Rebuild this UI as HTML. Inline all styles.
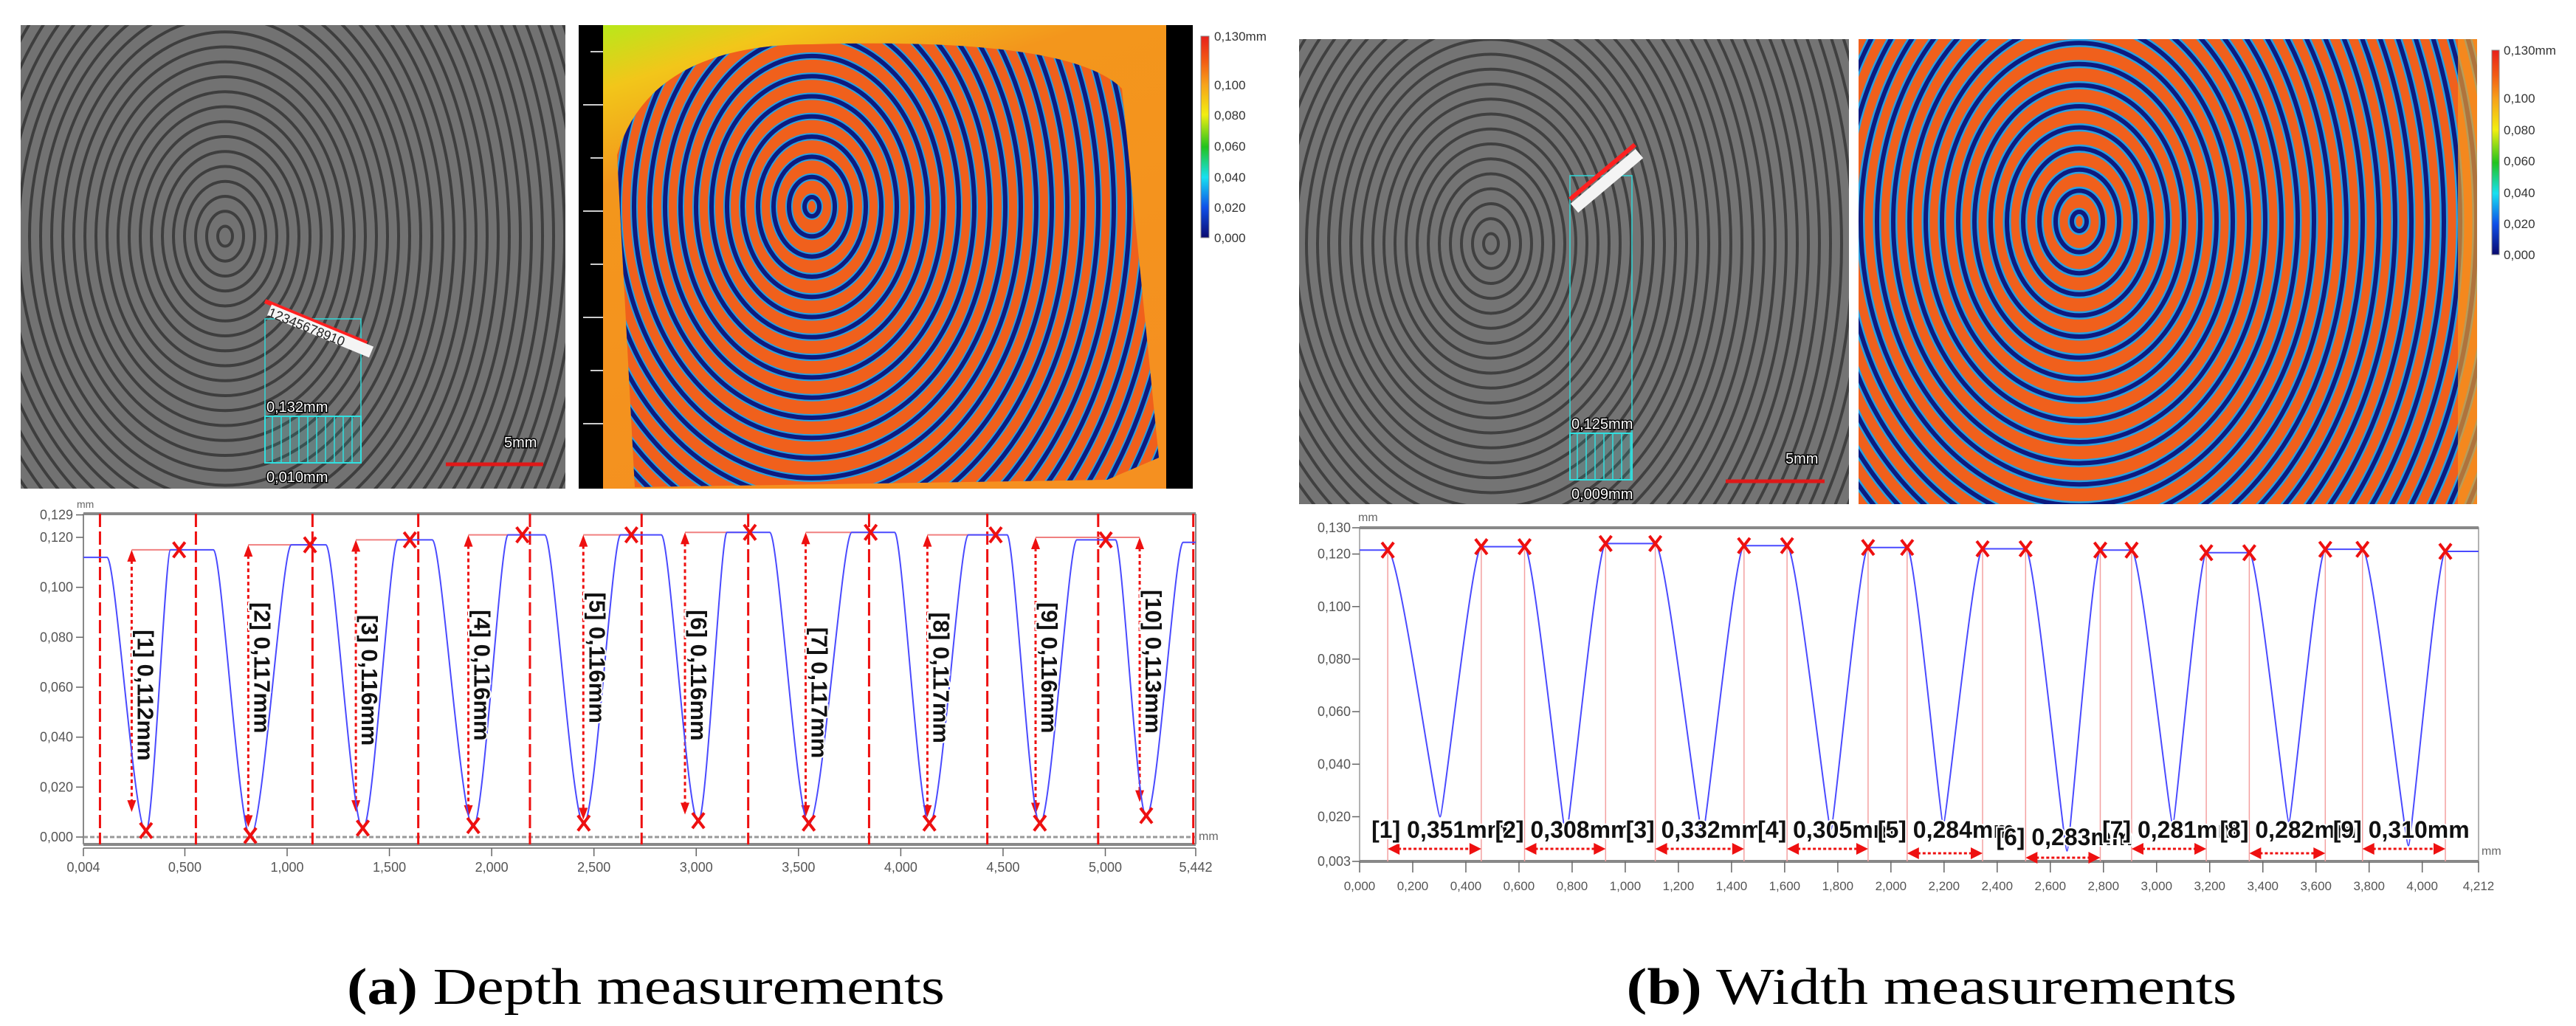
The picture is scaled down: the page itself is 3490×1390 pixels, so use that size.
<!DOCTYPE html>
<html><head><meta charset="utf-8"><title>Depth and width measurements</title>
<style>
html,body{margin:0;padding:0;background:#fff;width:3490px;height:1390px;overflow:hidden;}
svg{display:block;font-family:"Liberation Sans",sans-serif;}
</style></head>
<body>
<svg id="root" width="3490" height="1390" viewBox="0 0 3490 1390" xmlns="http://www.w3.org/2000/svg">
<defs>
<clipPath id="cGrayL"><rect x="28" y="34" width="738" height="628"/></clipPath>
<clipPath id="cColL"><path d="M836 210 Q880 60 1100 60 Q1450 50 1520 120 L1570 620 L1500 650 L860 660 Z"/></clipPath>
<clipPath id="cColLr"><rect x="817" y="34" width="763" height="628"/></clipPath>
<clipPath id="cGrayR"><rect x="1760" y="53" width="745" height="630"/></clipPath>
<clipPath id="cColR"><rect x="2518" y="53" width="838" height="630"/></clipPath>
<linearGradient id="cbar" x1="0" y1="0" x2="0" y2="1">
<stop offset="0" stop-color="#e8201c"/><stop offset="0.12" stop-color="#f25a14"/><stop offset="0.24" stop-color="#f7a21a"/>
<stop offset="0.39" stop-color="#f2ee10"/><stop offset="0.55" stop-color="#22c31e"/><stop offset="0.70" stop-color="#18e0f0"/>
<stop offset="0.85" stop-color="#1050e8"/><stop offset="1" stop-color="#0a0a70"/></linearGradient>
<linearGradient id="bgL" x1="0" y1="0" x2="0.4" y2="1">
<stop offset="0" stop-color="#b8e81a"/><stop offset="0.12" stop-color="#f2c61a"/><stop offset="0.3" stop-color="#f3961c"/><stop offset="1" stop-color="#f59020"/></linearGradient>
</defs>
<g id="images"></g>
<g id="chartL"></g>
<g id="chartR"></g>
<text x="875" y="1360" text-anchor="middle" font-family="Liberation Serif, serif" font-size="70" textLength="810" lengthAdjust="spacingAndGlyphs"><tspan font-weight="bold">(a)</tspan> Depth measurements</text>
<text x="2617" y="1360" text-anchor="middle" font-family="Liberation Serif, serif" font-size="70" textLength="827" lengthAdjust="spacingAndGlyphs"><tspan font-weight="bold">(b)</tspan> Width measurements</text>
</svg>
<script>
// ---------- depth chart data (a) ----------
const depthXTicks = [0.004,0.5,1.0,1.5,2.0,2.5,3.0,3.5,4.0,4.5,5.0,5.442];
const depthYTicks = [0,0.02,0.04,0.06,0.08,0.10,0.12,0.129];
const depthPeakStart = [0.004,0.43,1.02,1.54,2.08,2.63,3.15,3.76,4.33,4.86,5.38];
const depthPeakEnd = [0.12,0.64,1.19,1.71,2.26,2.83,3.36,3.97,4.52,5.05,5.442];
const depthPeakVal = [0.112,0.115,0.117,0.119,0.121,0.121,0.122,0.122,0.121,0.119,0.118];
const depthValleyX = [0.31,0.82,1.37,1.91,2.45,3.01,3.55,4.14,4.68,5.20];
const depthValleyVal = [0.002,0.000,0.003,0.004,0.005,0.006,0.005,0.005,0.005,0.008];
const depthBoundX = [0.085,0.554,1.124,1.641,2.187,2.733,3.254,3.845,4.423,4.965,5.43];
const depthArrowX = [0.240,0.810,1.336,1.886,2.448,2.945,3.535,4.130,4.659,5.168];
const depthArrowTop = [0.115,0.117,0.119,0.121,0.121,0.122,0.122,0.121,0.120,0.120];
const depthArrowBottom = [0.010,0.004,0.010,0.008,0.007,0.009,0.008,0.008,0.009,0.014];
const depthPeakMarkX = [0.472,1.112,1.600,2.150,2.683,3.262,3.853,4.464,5.002,5.002];
const depthLabels = ["[1] 0,112mm","[2] 0,117mm","[3] 0,116mm","[4] 0,116mm","[5] 0,116mm","[6] 0,116mm","[7] 0,117mm","[8] 0,117mm","[9] 0,116mm","[10] 0,113mm"];
const depthLabelTop = [0.083,0.094,0.089,0.091,0.098,0.091,0.084,0.090,0.094,0.099];
// ---------- width chart data (b) ----------
const widthXTicks = [0,0.2,0.4,0.6,0.8,1.0,1.2,1.4,1.6,1.8,2.0,2.2,2.4,2.6,2.8,3.0,3.2,3.4,3.6,3.8,4.0,4.212];
const widthYTicks = [0.003,0.02,0.04,0.06,0.08,0.10,0.12,0.13];
const widthPeakStart = [0,0.458,0.926,1.447,1.914,2.345,2.788,3.187,3.635,4.087];
const widthPeakEnd = [0.106,0.621,1.113,1.609,2.061,2.507,2.906,3.349,3.775,4.212];
const widthPeakVal = [0.1215,0.1228,0.124,0.1232,0.1225,0.122,0.1215,0.1205,0.1218,0.121];
const widthValleyX = [0.303,0.777,1.291,1.774,2.197,2.663,3.061,3.498,3.948];
const widthValleyVal = [0.020,0.013,0.013,0.015,0.017,0.007,0.017,0.018,0.009];
const widthLabels = ["[1] 0,351mm","[2] 0,308mm","[3] 0,332mm","[4] 0,305mm","[5] 0,284mm","[6] 0,283mm","[7] 0,281mm","[8] 0,282mm","[9] 0,310mm"];
const widthLabelRow = [0,0,0,0,1,2,0,1,0];

const NS = "http://www.w3.org/2000/svg";
function el(tag, attrs, parent, txt){
  const e = document.createElementNS(NS, tag);
  for (const k in attrs) e.setAttribute(k, attrs[k]);
  if (txt !== undefined) e.textContent = txt;
  parent.appendChild(e);
  return e;
}
function axis(p0,p1,d0,d1){ return v => p0 + (v-d0)/(d1-d0)*(p1-p0); }
function fmt(v){ return v.toFixed(3).replace('.',','); }
function profilePath(ps,pe,pv,vx,vv,X,Y,sharp){
  let d = "M"+X(ps[0])+" "+Y(pv[0])+" L"+X(pe[0])+" "+Y(pv[0]);
  for (let i=0;i<vx.length;i++){
    const a = pe[i], b = vx[i], c = ps[i+1];
    const d1 = b-a, d2 = c-b;
    d += " C"+X(a+0.22*d1)+" "+Y(pv[i])+" "+X(b-sharp*d1)+" "+Y(vv[i])+" "+X(b)+" "+Y(vv[i]);
    d += " C"+X(b+sharp*d2)+" "+Y(vv[i])+" "+X(c-0.22*d2)+" "+Y(pv[i+1])+" "+X(c)+" "+Y(pv[i+1]);
    d += " L"+X(pe[i+1])+" "+Y(pv[i+1]);
  }
  return d;
}
function xMark(g,x,y,s){
  const m = el("path",{d:"M"+(x-s)+" "+(y-s*1.3)+" L"+(x+s)+" "+(y+s*1.3)+" M"+(x+s)+" "+(y-s*1.3)+" L"+(x-s)+" "+(y+s*1.3),stroke:"#ee1010","stroke-width":4,fill:"none"},g);
  
  
}

// ---------- images ----------
const IMG = document.getElementById('images');
function rings(g, cx, cy, color, w, step, max, ratio, clip){
  const grp = el("g",{"clip-path":"url(#"+clip+")"},g);
  const lim = Math.min(max, (1370-cy)/ratio);
  for (let r=10; r<lim; r+=step){
    el("ellipse",{cx:cx,cy:cy,rx:r,ry:r*ratio,fill:"none",stroke:color,"stroke-width":w},grp);
  }
  return grp;
}
let gg = el("g",{},IMG);


el("rect",{x:28,y:34,width:738,height:628,fill:"#727272"},gg);
rings(gg,305,320,"#3e3e3e",4,15,700,1.35,"cGrayL");
let gc = el("g",{},IMG);


el("rect",{x:784,y:34,width:832,height:628,fill:"#000"},gc);
el("rect",{x:817,y:34,width:763,height:628,fill:"url(#bgL)"},gc);
let cg = el("g",{"clip-path":"url(#cColL)"},gc);
el("rect",{x:817,y:34,width:763,height:628,fill:"#f0601c"},cg);
rings(cg,1100,280,"#2aa0e0",10,21,700,1.3,"cColLr");
rings(cg,1100,280,"#0c1a80",6,21,700,1.3,"cColLr");
for (let i=0;i<8;i++){ el("line",{x1:(i%2?790:800),x2:817,y1:70+i*72,y2:70+i*72,stroke:"#ccc","stroke-width":2},gc); }
let cb = el("g",{},IMG);


el("rect",{x:1627,y:49,width:11,height:273,fill:"url(#cbar)",stroke:"#888","stroke-width":1},cb);
const cbLabels = ["0,130mm","0,100","0,080","0,060","0,040","0,020","0,000"];
const cbYL = [49,115,156,198,240,281,322];
cbLabels.forEach((t,i)=>{ el("text",{x:1645,y:cbYL[i]+6,"font-size":17,fill:"#333"},cb,t); });
let gg2 = el("g",{},IMG);


el("rect",{x:1760,y:53,width:745,height:630,fill:"#747474"},gg2);
rings(gg2,2020,330,"#404040",4,15,700,1.35,"cGrayR");
let gc2 = el("g",{},IMG);


el("rect",{x:2518,y:53,width:838,height:630,fill:"#f0601c"},gc2);
rings(gc2,2817,300,"#2aa0e0",11,22,750,1.3,"cColR");
rings(gc2,2817,300,"#0c1a80",6,22,750,1.3,"cColR");
el("rect",{x:3330,y:53,width:26,height:630,fill:"#f59a20",opacity:0.7},gc2);
let cb2 = el("g",{},IMG);


el("rect",{x:3376,y:68,width:10,height:277,fill:"url(#cbar)",stroke:"#888","stroke-width":1},cb2);
const cbYR = [68,133,176,218,261,303,345];
cbLabels.forEach((t,i)=>{ el("text",{x:3392,y:cbYR[i]+6,"font-size":17,fill:"#333"},cb2,t); });
function overlay(g, x0, x1, yTop, yBox, yBot, t1, t2, diag){
  el("rect",{x:x0,y:yTop,width:x1-x0,height:yBox-yTop,fill:"none",stroke:"#30d8d8","stroke-width":1.5},g);
  el("rect",{x:x0,y:yBox,width:x1-x0,height:yBot-yBox,fill:"rgba(40,200,200,0.15)",stroke:"#30e0e0","stroke-width":2},g);
  for (let x=x0+10;x<x1;x+=12) el("line",{x1:x,x2:x,y1:yBox,y2:yBot,stroke:"#30e0e0","stroke-width":1.5},g);
  el("text",{x:x0+2,y:yBox-6,"font-size":20,fill:"#fff",stroke:"#000","stroke-width":3,"paint-order":"stroke"},g,t1);
  el("text",{x:x0+2,y:yBot+26,"font-size":20,fill:"#fff",stroke:"#000","stroke-width":3,"paint-order":"stroke"},g,t2);
  el("line",{x1:diag[0],y1:diag[1],x2:diag[2],y2:diag[3],stroke:"#ff2020","stroke-width":6},g);
  el("line",{x1:diag[0]+6,y1:diag[1]+12,x2:diag[2]+6,y2:diag[3]+12,stroke:"#f4f4f4","stroke-width":16},g);
}
let ov1 = el("g",{},IMG);


overlay(ov1,359,489,432,564,627,"0,132mm","0,010mm",[359,408,497,465]);
el("text",{x:362,y:428,"font-size":18,fill:"#222",transform:"rotate(22 362 428)"},ov1,"12345678910");
let ov2 = el("g",{},IMG);


overlay(ov2,2127,2211,238,587,650,"0,125mm","0,009mm",[2127,270,2215,196]);
[[683,606,604,736,629],[2419,628,2338,2472,652]].forEach(s=>{
  const t = el("text",{x:s[0],y:s[1],"font-size":20,fill:"#fff",stroke:"#000","stroke-width":3,"paint-order":"stroke"},IMG,"5mm");
  
  
  const l = el("line",{x1:s[2],x2:s[3],y1:s[4],y2:s[4],stroke:"#e01818","stroke-width":5},IMG);
  
  
});

// ---------- chart (a) ----------
(function(){
  const g = document.getElementById('chartL');
  const X = axis(113,1620,0.004,5.442), Y = axis(1134,728,0,0.120);
  el("rect",{x:113,y:696,width:1507,height:448,fill:"#fff"},g);
  el("line",{x1:113,x2:1620,y1:696,y2:696,stroke:"#888","stroke-width":4},g);
  el("line",{x1:113,x2:1620,y1:1144,y2:1144,stroke:"#888","stroke-width":4},g);
  el("line",{x1:113,x2:113,y1:696,y2:1144,stroke:"#888","stroke-width":2},g);
  el("line",{x1:1620,x2:1620,y1:696,y2:1144,stroke:"#888","stroke-width":2},g);
  el("line",{x1:113,x2:1620,y1:Y(0),y2:Y(0),stroke:"#999","stroke-width":3,"stroke-dasharray":"6 3"},g);
  const yt = el("g",{},g);
  
  
  depthYTicks.forEach(v=>{
    el("line",{x1:103,x2:113,y1:Y(v),y2:Y(v),stroke:"#666","stroke-width":1.5},yt);
    el("text",{x:99,y:Y(v)+6,"font-size":18,"text-anchor":"end",fill:"#555"},yt,fmt(v));
  });
  el("text",{x:104,y:688,"font-size":14,fill:"#666"},yt,"mm");
  const xt = el("g",{},g);
  
  
  el("line",{x1:113,x2:1620,y1:1149,y2:1149,stroke:"#666","stroke-width":1.5},xt);
  depthXTicks.forEach(v=>{
    el("line",{x1:X(v),x2:X(v),y1:1149,y2:1160,stroke:"#666","stroke-width":1.5},xt);
    el("text",{x:X(v),y:1181,"font-size":18,"text-anchor":"middle",fill:"#555"},xt,fmt(v));
  });
  el("text",{x:1624,y:1138,"font-size":16,fill:"#666"},xt,"mm");
  depthBoundX.forEach(v=>{
    const l = el("line",{x1:X(v),x2:X(v),y1:696,y2:1144,stroke:"#ee1010","stroke-width":3,"stroke-dasharray":"18 6"},g);
    
    
  });
  depthArrowX.forEach((v,i)=>{
    const x = X(v), yt2 = Y(depthArrowTop[i]), yb = Y(depthArrowBottom[i]);
    el("line",{x1:x,x2:X(depthPeakMarkX[i]),y1:yt2,y2:yt2,stroke:"#f08080","stroke-width":2},g);
    const a = el("line",{x1:x,x2:x,y1:yt2+14,y2:yb-14,stroke:"#ee1010","stroke-width":3,"stroke-dasharray":"5 4"},g);
    
    
    el("path",{d:"M"+(x-6)+" "+(yt2+16)+" L"+x+" "+yt2+" L"+(x+6)+" "+(yt2+16)+"Z",fill:"#ee1010"},g);
    el("path",{d:"M"+(x-6)+" "+(yb-16)+" L"+x+" "+yb+" L"+(x+6)+" "+(yb-16)+"Z",fill:"#ee1010"},g);
  });
  const p = el("path",{d:profilePath(depthPeakStart,depthPeakEnd,depthPeakVal,depthValleyX,depthValleyVal,X,Y,0.3),fill:"none",stroke:"#4a4aff","stroke-width":2},g);
  
  
  depthPeakMarkX.slice(0,9).forEach((v,i)=>xMark(g,X(v),Y(depthPeakVal[i+1]),8));
  depthValleyX.forEach((v,i)=>xMark(g,X(v),Y(depthValleyVal[i])-2,8));
  depthLabels.forEach((t,i)=>{
    const x = X(depthArrowX[i])+8, y = Y(depthLabelTop[i]);
    const tx = el("text",{x:x,y:y,"font-size":31,"font-weight":"bold",fill:"#111",stroke:"#fff","stroke-width":4,"paint-order":"stroke",transform:"rotate(90 "+x+" "+y+")"},g,t);
    
    
  });
})();

// ---------- chart (b) ----------
(function(){
  const g = document.getElementById('chartR');
  const X = axis(1842,3358,0,4.212), Y = axis(1167,715,0.003,0.130);
  el("rect",{x:1842,y:715,width:1516,height:452,fill:"#fff",stroke:"#999","stroke-width":1.5},g);
  el("line",{x1:1842,x2:3358,y1:715,y2:715,stroke:"#888","stroke-width":4},g);
  el("line",{x1:1842,x2:3358,y1:1167,y2:1167,stroke:"#888","stroke-width":4},g);
  const yt = el("g",{},g);
  
  
  widthYTicks.forEach(v=>{
    el("line",{x1:1832,x2:1842,y1:Y(v),y2:Y(v),stroke:"#666","stroke-width":1.5},yt);
    el("text",{x:1830,y:Y(v)+6,"font-size":18,"text-anchor":"end",fill:"#555"},yt,fmt(v));
  });
  el("text",{x:1840,y:706,"font-size":16,fill:"#666"},yt,"mm");
  const xt = el("g",{},g);
  
  
  widthXTicks.forEach(v=>{
    el("line",{x1:X(v),x2:X(v),y1:1167,y2:1182,stroke:"#666","stroke-width":1.5},xt);
    el("text",{x:X(v),y:1206,"font-size":17,"text-anchor":"middle",fill:"#555"},xt,fmt(v));
  });
  el("text",{x:3362,y:1158,"font-size":16,fill:"#666"},xt,"mm");
  const marks = [];
  widthPeakEnd.forEach((v,i)=>{ if (i<widthValleyX.length) marks.push([v,widthPeakVal[i]]); if (i+1<widthPeakStart.length) marks.push([widthPeakStart[i+1],widthPeakVal[i+1]]); });
  marks.forEach(m=>{ el("line",{x1:X(m[0]),x2:X(m[0]),y1:Y(m[1]),y2:1167,stroke:"#f4a0a0","stroke-width":1.5},g); });
  const p = el("path",{d:profilePath(widthPeakStart,widthPeakEnd,widthPeakVal,widthValleyX,widthValleyVal,X,Y,0.08),fill:"none",stroke:"#4a4aff","stroke-width":2},g);
  
  
  marks.forEach(m=>xMark(g,X(m[0]),Y(m[1]),8));
  widthLabels.forEach((t,i)=>{
    const x0 = X(widthPeakEnd[i]), x1 = X(widthPeakStart[i+1]);
    const ay = 1150 + widthLabelRow[i]*6;
    const ar = el("g",{},g);
    
    
    el("line",{x1:x0+14,x2:x1-14,y1:ay,y2:ay,stroke:"#ee1010","stroke-width":3,"stroke-dasharray":"4 3"},ar);
    el("path",{d:"M"+(x0+16)+" "+(ay-8)+" L"+x0+" "+ay+" L"+(x0+16)+" "+(ay+8)+"Z",fill:"#ee1010"},ar);
    el("path",{d:"M"+(x1-16)+" "+(ay-8)+" L"+x1+" "+ay+" L"+(x1-16)+" "+(ay+8)+"Z",fill:"#ee1010"},ar);
  });
  widthLabels.forEach((t,i)=>{
    const lx = X(widthPeakEnd[i]) - (i===0?22:40);
    const ly = 1135 + (widthLabelRow[i]===2?10:0);
    const tx = el("text",{x:lx,y:ly,"font-size":32,"font-weight":"bold",fill:"#111",stroke:"#fff","stroke-width":4,"paint-order":"stroke"},g,t);
    
    
  });
})();
</script>
</body></html>
